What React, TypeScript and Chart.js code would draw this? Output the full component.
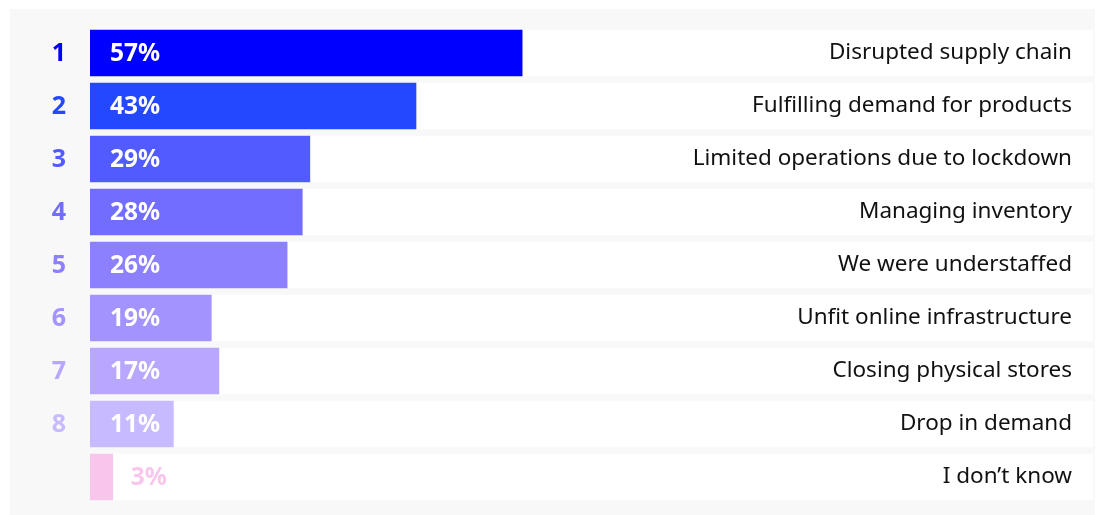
import React, { useEffect, useRef } from "react";
import { Chart, registerables } from "chart.js";

Chart.register(...registerables);

const categories = [
  "Disrupted supply chain",
  "Fulfilling demand for products",
  "Limited operations due to lockdown",
  "Managing inventory",
  "We were understaffed",
  "Unfit online infrastructure",
  "Closing physical stores",
  "Drop in demand",
  "I don\u2019t know",
];
const ranks = ["1", "2", "3", "4", "5", "6", "7", "8", ""];
const barValues = [57, 43, 29, 28, 26, 16, 17, 11, 3];
const percentLabels = ["57%", "43%", "29%", "28%", "26%", "19%", "17%", "11%", "3%"];
const colors = [
  "#0000ff",
  "#2448ff",
  "#525bff",
  "#726dff",
  "#8c80ff",
  "#a293ff",
  "#b8a6ff",
  "#c8baff",
  "#f8c6ec",
];
const XMAX = 132.3;

const FONT = "'Noto Sans', 'Open Sans', sans-serif";

const decorPlugin = {
  id: "decor",
  beforeDraw(chart: any) {
    const ctx = chart.ctx;
    ctx.save();
    ctx.fillStyle = "#f8f8f8";
    ctx.fillRect(10, 9, 1085, 506);
    ctx.restore();
  },
  afterDatasetsDraw(chart: any) {
    const ctx = chart.ctx;
    const y = chart.scales.y;
    const x = chart.scales.x;
    ctx.save();
    ctx.textBaseline = "middle";
    categories.forEach((cat, i) => {
      const py = y.getPixelForValue(i);
      // rank number
      ctx.font = `bold 25px ${FONT}`;
      ctx.textAlign = "center";
      ctx.fillStyle = colors[i];
      if (ranks[i]) ctx.fillText(ranks[i], 59, py + 1);
      // percentage
      const barEnd = x.getPixelForValue(barValues[i]);
      ctx.textAlign = "left";
      const inside = barEnd - x.left > 60;
      ctx.font = `bold 24.5px ${FONT}`;
      ctx.fillStyle = inside ? "#ffffff" : colors[i];
      ctx.fillText(percentLabels[i], inside ? x.left + 20 : barEnd + 18, py + 1);
      // category label
      ctx.font = `22.5px ${FONT}`;
      ctx.textAlign = "right";
      ctx.fillStyle = "#111111";
      ctx.fillText(cat, 1072, py);
    });
    ctx.restore();
  },
};

export default function App() {
  const ref = useRef<HTMLCanvasElement>(null);
  useEffect(() => {
    if (!ref.current) return;
    const chart = new Chart(ref.current, {
      type: "bar",
      data: {
        labels: categories,
        datasets: [
          {
            label: "value",
            data: barValues,
            backgroundColor: colors,
            barThickness: 46,
            grouped: false,
            order: 1,
          },
          {
            label: "row",
            data: categories.map(() => XMAX),
            backgroundColor: "#ffffff",
            barThickness: 46,
            grouped: false,
            order: 2,
          },
        ],
      },
      options: {
        indexAxis: "y",
        responsive: false,
        animation: false,
        layout: { padding: { left: 90, right: 12, top: 26.5, bottom: 11.5 } },
        scales: {
          x: { display: false, min: 0, max: XMAX },
          y: { display: false },
        },
        plugins: {
          legend: { display: false },
          tooltip: { enabled: false },
        },
      },
      plugins: [decorPlugin],
    });
    return () => chart.destroy();
  }, []);
  return (
    <div style={{ position: "absolute", left: 0, top: 0, width: 1105, height: 515 }}>
      <canvas ref={ref} width={1105} height={515} />
    </div>
  );
}
